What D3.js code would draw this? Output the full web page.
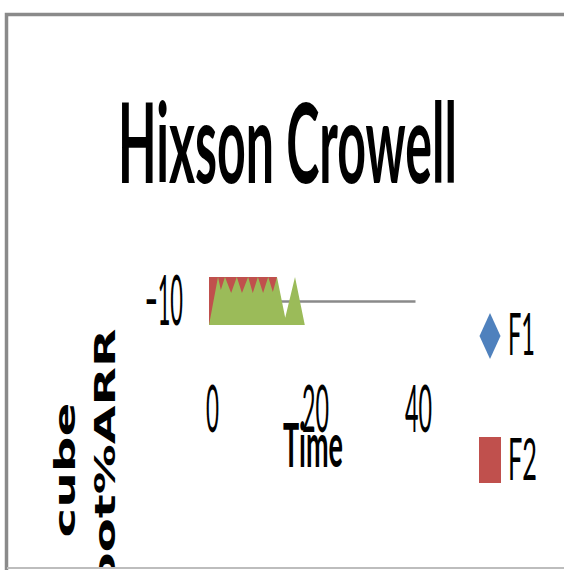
<!DOCTYPE html>
<html>
<head>
<meta charset="utf-8">
<script src="https://cdn.jsdelivr.net/npm/d3@7"></script>
<style>
body { margin: 0; background: #fff; }
svg { display: block; }
</style>
</head>
<body>
<svg></svg>
<script>
let chartTitle = "Hixson Crowell";
let xTitle = "Time";
let yTitleLines = ["cube", "root%ARR"];
let xTickValues = [0, 20, 40];
let yTickValues = [-10];
let seriesNames = ["F1", "F2"];
let seriesColors = ["#4f81bd", "#c0504d", "#9bbb59"];

// F2 (red area)
let f2Time = [0, 13.2];
let f2Values = [0, 0];
// third series (green area), not in the visible legend
let f3Time = [0, 1.75, 2.3, 3.1, 4.3, 5.4, 6.4, 7.6, 8.5, 9.5, 10.5, 11.5, 12.4, 13.2, 14.8, 16.7, 18.6];
let f3Values = [-20, 0, -5.4, 0, -6.7, 0, -6.7, 0, -6.7, 0, -6.7, 0, -6.2, 0, -17, 0, -20];

let width = 564;
let height = 570;

let svg = d3.select("svg")
    .attr("width", width)
    .attr("height", height);

svg.append("defs").append("clipPath")
   .attr("id", "clip")
   .append("rect")
   .attr("x", 7).attr("y", 14)
   .attr("width", width - 7).attr("height", 553);

let chart = svg.append("g").attr("clip-path", "url(#clip)");

let xScale = d3.scaleLinear().domain([0, 40]).range([209, 415]);
let yScale = d3.scaleLinear().domain([-20, 0]).range([325, 277]);

// x axis crosses at -10
let xAxis = chart.append("g")
    .attr("transform", "translate(0," + yScale(-10) + ")")
    .call(d3.axisBottom(xScale).tickValues(xTickValues).tickSize(0).tickSizeOuter(0));
xAxis.select(".domain").attr("stroke", "#8a8a8a").attr("stroke-width", 2.5);
xAxis.selectAll("text")
     .attr("font-family", "Lato")
     .attr("font-size", 65)
     .attr("fill", "#000")
     .attr("dy", null)
     .attr("y", 131)
     .attr("x", 3)
     .attr("textLength", (d) => d < 10 ? 13 : 27)
     .attr("lengthAdjust", "spacingAndGlyphs");

let yAxis = chart.append("g")
    .attr("transform", "translate(183,0)")
    .call(d3.axisLeft(yScale).tickValues(yTickValues).tickSize(0).tickPadding(0));
yAxis.select(".domain").remove();
yAxis.selectAll("text")
     .attr("font-family", "Lato")
     .attr("font-size", 69)
     .attr("fill", "#000")
     .attr("dy", null)
     .attr("y", 23)
     .attr("textLength", 38)
     .attr("lengthAdjust", "spacingAndGlyphs");

let area = d3.area()
    .x((d) => xScale(d[0]))
    .y0(yScale(-20))
    .y1((d) => yScale(d[1]));

chart.append("path")
     .datum(f2Time.map((t, i) => [t, f2Values[i]]))
     .attr("fill", seriesColors[1])
     .attr("d", area);

chart.append("path")
     .datum(f3Time.map((t, i) => [t, f3Values[i]]))
     .attr("fill", seriesColors[2])
     .attr("d", area);

// title
chart.append("text")
     .attr("x", 118).attr("y", 183)
     .attr("font-family", "Lato").attr("font-weight", "bold")
     .attr("font-size", 112)
     .attr("textLength", 339).attr("lengthAdjust", "spacingAndGlyphs")
     .text(chartTitle);

chart.append("text")
     .attr("x", 283).attr("y", 467)
     .attr("font-family", "Lato").attr("font-weight", "bold")
     .attr("font-size", 61)
     .attr("textLength", 60).attr("lengthAdjust", "spacingAndGlyphs")
     .text(xTitle);

// rotated y title, two lines, squeezed sideways
chart.selectAll(".ytitle")
     .data(yTitleLines)
     .enter()
     .append("text")
     .attr("class", "ytitle")
     .attr("transform", (d, i) => "translate(" + (75 + i * 40) + ",470) scale(0.58,1) rotate(-90)")
     .attr("text-anchor", "middle")
     .attr("font-family", "DejaVu Sans").attr("font-weight", "bold")
     .attr("font-size", 50)
     .text((d) => d);

// legend
let legend = chart.append("g");
legend.append("path")
      .attr("d", "M490,313L500.5,336L490,359L479.5,336Z")
      .attr("fill", seriesColors[0]);
legend.append("rect")
      .attr("x", 479).attr("y", 437)
      .attr("width", 22).attr("height", 46)
      .attr("fill", seriesColors[1]);
legend.selectAll(".ltext")
      .data(seriesNames)
      .enter()
      .append("text")
      .attr("class", "ltext")
      .attr("x", 508)
      .attr("y", (d, i) => i == 0 ? 355 : 480)
      .attr("font-family", "Lato")
      .attr("font-size", 59)
      .attr("textLength", (d, i) => i == 0 ? 27 : 29)
      .attr("lengthAdjust", "spacingAndGlyphs")
      .text((d) => d);

// chart border (clipped at right)
svg.append("path")
   .attr("d", "M6.5,570V14.5H564")
   .attr("fill", "none")
   .attr("stroke", "#8a8a8a")
   .attr("stroke-width", 3.5);
svg.append("line")
   .attr("x1", 7).attr("x2", width)
   .attr("y1", 568).attr("y2", 568)
   .attr("stroke", "#bdbdbd")
   .attr("stroke-width", 2);
</script>
</body>
</html>
